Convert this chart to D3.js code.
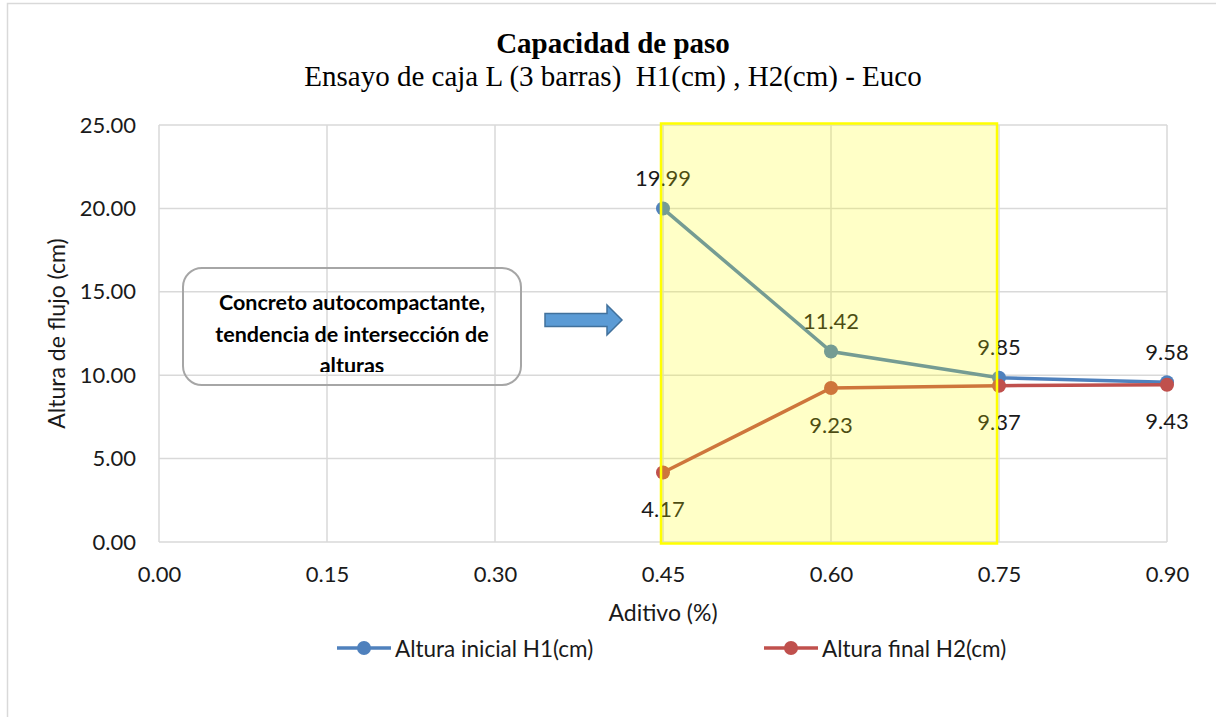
<!DOCTYPE html>
<html>
<head>
<meta charset="utf-8">
<script src="https://cdn.jsdelivr.net/npm/d3@7/dist/d3.min.js"></script>
<style>
  html, body { margin: 0; padding: 0; background: #fff; }
  svg { display: block; }
</style>
</head>
<body>
<svg id="chart" width="1216" height="717"></svg>
<script>
// Additive dosage (%) on the x axis
const aditivo = [0.45, 0.60, 0.75, 0.90];
// Initial height H1 and final height H2 (cm)
const alturaInicial = [19.99, 11.42, 9.85, 9.58];
const alturaFinal = [4.17, 9.23, 9.37, 9.43];
// Axis ticks
const xTicks = [0.00, 0.15, 0.30, 0.45, 0.60, 0.75, 0.90];
const yTicks = [0, 5, 10, 15, 20, 25];
// Highlighted dosage range
const rangoResaltado = [0.45, 0.75];
const seriesNames = ["Altura inicial H1(cm)", "Altura final H2(cm)"];
const noteLines = ["Concreto autocompactante,", "tendencia de intersección de", "alturas"];

const svg = d3.select("#chart");
const W = 1216, H = 717;
const sans = "Lato, 'Open Sans', sans-serif";
const serif = "'Liberation Serif', 'Times New Roman', serif";
const ink = "#1a1a1a";

const x = d3.scaleLinear().domain([0, 0.9]).range([159, 1167]);
const y = d3.scaleLinear().domain([0, 25]).range([542, 125]);

// outer chart frame
svg.append("rect")
  .attr("x", 7.5).attr("y", 3.5)
  .attr("width", W + 20).attr("height", H + 20)
  .attr("fill", "#fff").attr("stroke", "#d9d9d9").attr("stroke-width", 1.5);

// titles
svg.append("text").attr("x", 613).attr("y", 53)
  .attr("text-anchor", "middle").attr("font-family", serif)
  .attr("font-weight", "bold").attr("font-size", 29).attr("fill", "#000")
  .text("Capacidad de paso");
svg.append("text").attr("x", 613).attr("y", 86)
  .attr("text-anchor", "middle").attr("font-family", serif)
  .attr("font-size", 29).attr("fill", "#000")
  .style("white-space", "pre")
  .text("Ensayo de caja L (3 barras)  H1(cm) , H2(cm) - Euco");

// gridlines
const grid = svg.append("g").attr("stroke", "#d9d9d9").attr("stroke-width", 1.5);
grid.selectAll("line.h").data(yTicks).join("line")
  .attr("x1", x(0)).attr("x2", x(0.9))
  .attr("y1", d => y(d)).attr("y2", d => y(d));
grid.selectAll("line.v").data(xTicks).join("line")
  .attr("x1", d => x(d)).attr("x2", d => x(d))
  .attr("y1", y(0)).attr("y2", y(25));

// axes (labels only)
const yAxis = d3.axisLeft(y).tickValues(yTicks).tickFormat(d3.format(".2f")).tickSize(0).tickPadding(23);
const gy = svg.append("g").attr("transform", `translate(${x(0)},0)`).call(yAxis);
const xAxis = d3.axisBottom(x).tickValues(xTicks).tickFormat(d3.format(".2f")).tickSize(0).tickPadding(24);
const gx = svg.append("g").attr("transform", `translate(0,${y(0)})`).call(xAxis);
[gx, gy].forEach(g => {
  g.select(".domain").remove();
  g.selectAll("text").attr("font-family", sans).attr("font-size", 22).attr("fill", ink);
});

// axis titles
svg.append("text")
  .attr("transform", `translate(56,${(y(0) + y(25)) / 2}) rotate(-90)`)
  .attr("text-anchor", "middle").attr("dominant-baseline", "central")
  .attr("font-family", sans).attr("font-size", 23).attr("fill", ink)
  .text("Altura de flujo (cm)");
svg.append("text").attr("x", 663).attr("y", 621)
  .attr("text-anchor", "middle")
  .attr("font-family", sans).attr("font-size", 23).attr("fill", ink)
  .text("Aditivo (%)");

// series
const series = [
  { name: seriesNames[0], values: alturaInicial, color: "#4F81BD", dy: -31 },
  { name: seriesNames[1], values: alturaFinal, color: "#C0504D", dy: 36 }
];
const line = d3.line().x(d => x(d[0])).y(d => y(d[1]));
series.forEach(s => {
  const pts = aditivo.map((a, i) => [a, s.values[i]]);
  const g = svg.append("g");
  g.append("path").datum(pts).attr("d", line)
    .attr("fill", "none").attr("stroke", s.color).attr("stroke-width", 3.5);
  g.selectAll("circle").data(pts).join("circle")
    .attr("cx", d => x(d[0])).attr("cy", d => y(d[1])).attr("r", 7)
    .attr("fill", s.color);
  g.selectAll("text").data(pts).join("text")
    .attr("x", d => x(d[0])).attr("y", d => y(d[1]) + s.dy)
    .attr("text-anchor", "middle").attr("dominant-baseline", "central")
    .attr("font-family", sans).attr("font-size", 22).attr("fill", ink)
    .text(d => d[1].toFixed(2));
});

// note box with clipped text
const note = svg.append("g");
note.append("rect").attr("x", 183).attr("y", 268).attr("width", 338).attr("height", 117)
  .attr("rx", 19).attr("fill", "none").attr("stroke", "#a6a6a6").attr("stroke-width", 2);
svg.append("clipPath").attr("id", "noteClip")
  .append("rect").attr("x", 183).attr("y", 268).attr("width", 338).attr("height", 104);
note.append("g").attr("clip-path", "url(#noteClip)")
  .selectAll("text").data(noteLines).join("text")
  .attr("x", 352).attr("y", (d, i) => 302 + i * 31.5)
  .attr("text-anchor", "middle").attr("dominant-baseline", "central")
  .attr("font-family", sans).attr("font-weight", "bold").attr("font-size", 21.5).attr("fill", "#000")
  .text(d => d);

// block arrow
svg.append("path")
  .attr("d", "M545,313.5 L607,313.5 L607,305 L622,320 L607,335 L607,326.5 L545,326.5 Z")
  .attr("fill", "#5B9BD5").attr("stroke", "#41719C").attr("stroke-width", 1.5);

// highlighted range (translucent, drawn over the series)
svg.append("rect")
  .attr("x", x(rangoResaltado[0]) - 2).attr("y", 123.5)
  .attr("width", x(rangoResaltado[1]) - x(rangoResaltado[0]))
  .attr("height", 420)
  .attr("fill", "#FFFF00").attr("fill-opacity", 0.22)
  .attr("stroke", "#FFFF00").attr("stroke-width", 2.5);

// legend
const legend = svg.append("g");
const legendItems = [{ x0: 337, s: series[0] }, { x0: 764, s: series[1] }];
legendItems.forEach(it => {
  legend.append("line").attr("x1", it.x0).attr("x2", it.x0 + 54)
    .attr("y1", 648).attr("y2", 648).attr("stroke", it.s.color).attr("stroke-width", 3.5);
  legend.append("circle").attr("cx", it.x0 + 27).attr("cy", 648).attr("r", 7).attr("fill", it.s.color);
  legend.append("text").attr("x", it.x0 + 58).attr("y", 648)
    .attr("dominant-baseline", "central")
    .attr("font-family", sans).attr("font-size", 22.5).attr("fill", ink)
    .text(it.s.name);
});
</script>
</body>
</html>
